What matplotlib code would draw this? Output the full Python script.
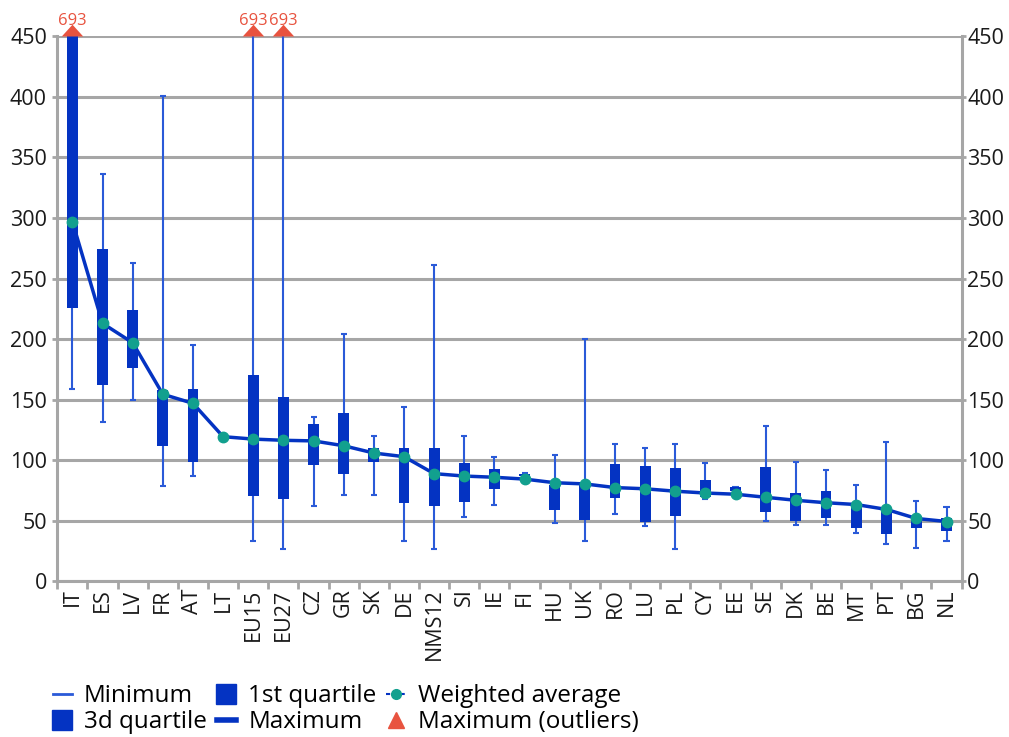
import matplotlib
matplotlib.use("Agg")
import matplotlib.pyplot as plt
from matplotlib.lines import Line2D
import numpy as np

plt.rcParams['font.family'] = ['Open Sans', 'DejaVu Sans']

categories = ["IT", "ES", "LV", "FR", "AT", "LT", "EU15", "EU27", "CZ", "GR",
              "SK", "DE", "NMS12", "SI", "IE", "FI", "HU", "UK", "RO", "LU",
              "PL", "CY", "EE", "SE", "DK", "BE", "MT", "PT", "BG", "NL"]
minimum = [159, 132, 150, 79, 87, 118, 33, 27, 62, 71,
           71, 33, 27, 53, 63, 87, 48, 33, 56, 46,
           27, 68, 73, 50, 47, 47, 40, 31, 28, 33]
q1 = [226, 162, 176, 112, 99, 118, 70.5, 68, 96, 89,
      99, 65, 62, 66, 76, 87, 59, 51, 69, 49,
      54, 70, 75, 57, 50, 52, 44, 39, 44, 42]
q3 = [460, 274, 224, 158, 159, 121, 170, 152, 130, 139,
      110, 110, 110, 97.5, 92.5, 88.5, 79.5, 81.5, 97, 95,
      93.5, 84, 78, 94.5, 73, 74.5, 65, 61, 54, 52]
maximum = [693, 336, 262.5, 400.5, 195, 121, 693, 693, 136, 204.5,
           120, 144, 261, 120, 103, 89.5, 104.5, 200, 113.5, 110.5,
           113.5, 97.5, 78, 128.5, 99, 92, 79.5, 115.5, 66.5, 61.5]
weighted_avg = [297, 213, 197, 154.5, 147, 119.5, 117.5, 116.5, 116, 112,
                106, 103, 89, 87, 86, 84.5, 81.5, 80.5, 77.5, 76.5,
                74.5, 73, 72, 69.5, 67, 65, 63.5, 59.5, 52, 49.5]
y_ticks = [0, 50, 100, 150, 200, 250, 300, 350, 400, 450]
y_max = 450

BOX = "#0433C2"
WHISK = "#2A5AD8"
AVG_LINE = "#0433C2"
AVG_DOT = "#12A08E"
RED = "#E8533F"
GRID = "#A6A6A6"
TXT = "#1a1a1a"

TRI = [(-1, 0), (1, 0), (0, 1.1), (-1, 0)]

fig = plt.figure(figsize=(10.09, 7.37), dpi=100)
ax = fig.add_axes([0.0568, 0.211, 0.8962, 0.740])

x = np.arange(len(categories))
ymax_clip = np.minimum(np.array(maximum, dtype=float), y_max)
q3c = np.minimum(np.array(q3, dtype=float), y_max)

# whiskers
ax.vlines(x, minimum, ymax_clip, color=WHISK, lw=1.5, zorder=3)
# caps
cap_w = 0.1
ax.hlines(minimum, x - cap_w, x + cap_w, color=WHISK, lw=1.5, zorder=3)
normal = np.array(maximum) <= y_max
ax.hlines(np.array(maximum)[normal], x[normal] - cap_w, x[normal] + cap_w,
          color=WHISK, lw=1.5, zorder=3)
# boxes
ax.bar(x, q3c - np.array(q1), bottom=q1, width=0.36, color=BOX, zorder=4)
# weighted average
ax.plot(x, weighted_avg, color=AVG_LINE, lw=2.5, zorder=5)
ax.plot(x, weighted_avg, ls='none', marker='o', ms=7.5, mfc=AVG_DOT,
        mec=AVG_DOT, zorder=6)
# outliers
out = ~normal
ax.plot(x[out], np.full(out.sum(), y_max), ls='none', marker=TRI, ms=17,
        color=RED, mew=0, clip_on=False, zorder=7)
for xi, v in zip(x[out], np.array(maximum)[out]):
    ax.annotate(f"{v:g}", (xi, y_max), xytext=(0, 8), textcoords='offset points',
                ha='center', va='baseline', color=RED, fontsize=12)

ax.set_xlim(-0.5, len(categories) - 0.5)
ax.set_ylim(0, y_max)
ax.set_yticks(y_ticks)
ax.yaxis.grid(True, color=GRID, lw=2.2, zorder=0)
ax.set_axisbelow(True)
ax.set_xticks(x)
ax.set_xticklabels(categories, rotation=90, fontsize=15.5, color=TXT)
ax.set_xticks(np.arange(-0.5, len(categories) + 0.5, 1), minor=True)
ax.tick_params(axis='x', which='major', length=0, pad=5)
ax.tick_params(axis='x', which='minor', length=6, width=2, color=GRID)
ax.tick_params(axis='y', length=3.5, width=2, color=GRID, labelsize=15.5,
               labelcolor=TXT, pad=4)
for s in ['left', 'right', 'bottom']:
    ax.spines[s].set_color(GRID)
    ax.spines[s].set_linewidth(2.2)
ax.spines['top'].set_visible(False)

ax2 = ax.twinx()
ax2.set_ylim(0, y_max)
ax2.set_yticks(y_ticks)
ax2.tick_params(axis='y', length=3, width=2, color=GRID, labelsize=15.5,
                labelcolor=TXT, pad=1)
for s in ['left', 'right', 'bottom', 'top']:
    ax2.spines[s].set_visible(False)

labels = ["Minimum", "3d quartile", "1st quartile", "Maximum",
          "Weighted average", "Maximum (outliers)"]
handles = [
    Line2D([], [], color=WHISK, lw=2),
    Line2D([], [], ls='none', marker='s', ms=15, color=BOX),
    Line2D([], [], ls='none', marker='s', ms=15, color=BOX),
    Line2D([], [], color=BOX, lw=4),
    Line2D([], [], color=AVG_LINE, lw=1.5, ls=(0, (2, 1.5)), marker='o', ms=7,
           mfc=AVG_DOT, mec=AVG_DOT),
    Line2D([], [], ls='none', marker='^', ms=11, color=RED),
]
fig.legend(handles, labels, ncol=3, loc='upper left', bbox_to_anchor=(0.040, 0.088),
           frameon=False, fontsize=17.5, handlelength=0.8, handletextpad=0.5,
           columnspacing=0.4, labelspacing=0.08, borderpad=0)

fig.savefig("out.png", dpi=100)
